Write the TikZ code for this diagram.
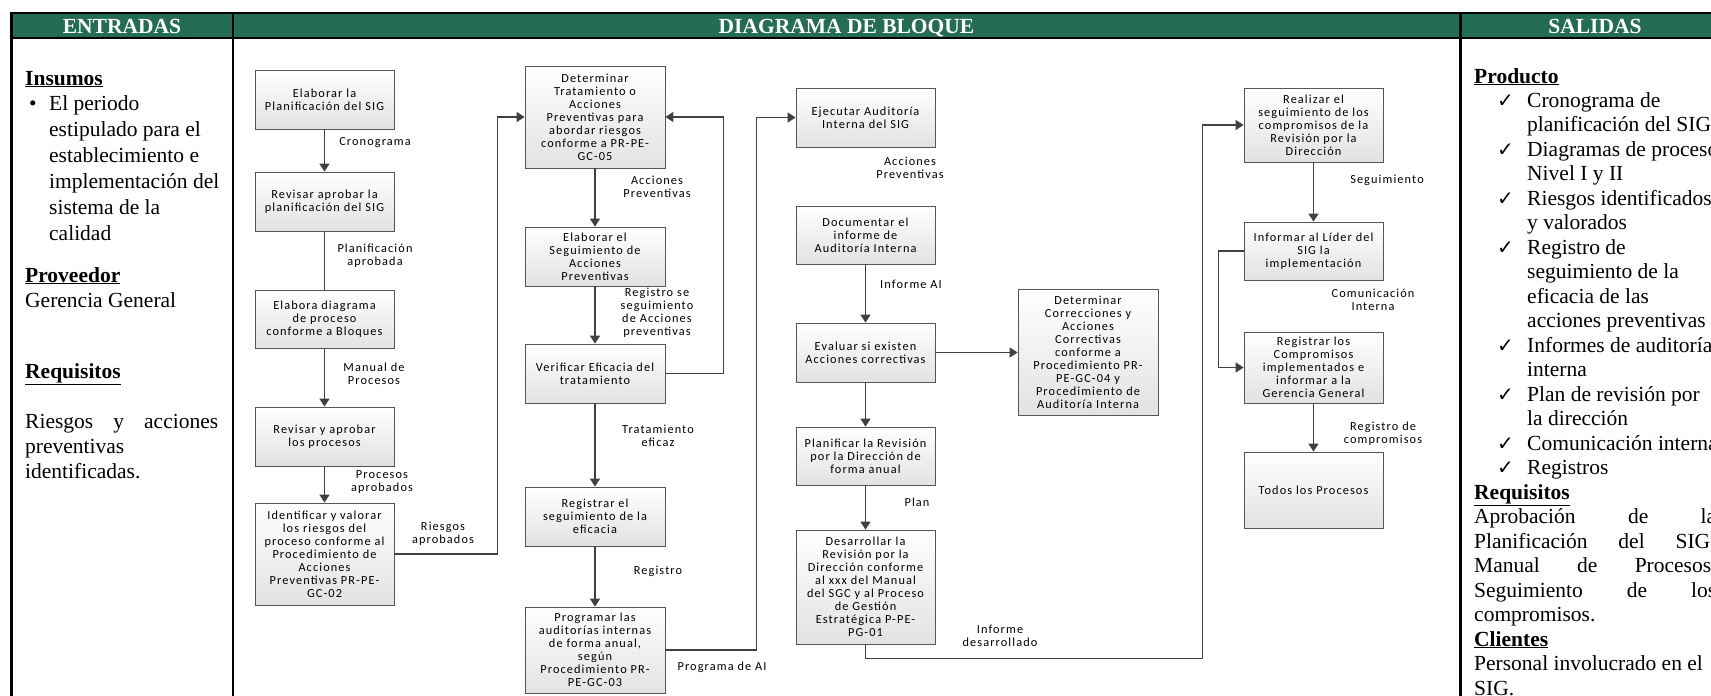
\documentclass[tikz,border=0pt]{standalone}
\usepackage{fontspec}
\setmainfont{Liberation Serif}
\newfontfamily\dgfont{Carlito}[LetterSpace=9]
\newfontfamily\symfont{DejaVu Sans}
\usetikzlibrary{arrows.meta,shadows}

\definecolor{hdrgreen}{RGB}{36,108,82}
\definecolor{linegray}{RGB}{64,64,64}
\definecolor{boxedge}{RGB}{85,85,85}
\definecolor{boxfill}{RGB}{226,226,226}

\newcommand\dgsize{\dgfont\fontsize{12.3}{13}\selectfont}
\newcommand\lsize{\fontsize{21.5}{26}\selectfont}
\newcommand\rsize{\fontsize{21.5}{24.5}\selectfont}

\tikzset{
  tableline/.style={line width=2.4pt, black},
  hdr/.style={anchor=base, text=white, font=\lsize\bfseries, inner sep=0},
  body/.style={anchor=base west, inner sep=0, font=\lsize},
  rbody/.style={anchor=base west, inner sep=0, font=\rsize},
  head/.style={anchor=base west, inner sep=0, font=\lsize\bfseries},
  chk/.style={anchor=base west, inner sep=0, font=\symfont\fontsize{20}{22}\selectfont},
  box/.style={draw=boxedge, line width=0.8pt, top color=white, bottom color=boxfill,
    align=center, inner sep=1pt, font=\dgsize,
    drop shadow={shadow xshift=1.3pt, shadow yshift=-1.3pt, opacity=0.3}},
  sz/.style 2 args={minimum width=#1pt, minimum height=#2pt},
  lbl/.style={font=\dgsize, align=center, inner sep=0},
  conn/.style={draw=linegray, line width=1.5pt},
  arr/.style={conn, -{Triangle[length=8pt,width=10pt]}},
}

\begin{document}
\begin{tikzpicture}[x=1pt,y=-1pt]
\useasboundingbox (0,0) rectangle (1711,696);
\clip (0,0) rectangle (1711,696);

% table frame and header row
\fill[hdrgreen] (11.5,13) rectangle (1740,38);
\draw[tableline] (11.5,720) -- (11.5,13) -- (1740,13);
\draw[tableline] (11.5,38) -- (1740,38);
\draw[tableline] (233,13) -- (233,720);
\draw[tableline] (1460.5,13) -- (1460.5,720);

\node[hdr] (hin)  at (122,33.5)   {ENTRADAS};
\node[hdr] (hmid) at (846.5,33.5) {DIAGRAMA DE BLOQUE};
\node[hdr] (hout) at (1595,33.5)  {SALIDAS};

% inputs column
\node[head] (ins) at (25,85) {\underline{Insumos}};
\node[body] (insb) at (29,110) {\textbullet};
\node[body] (inst) at (49,110) {\parbox[t]{180pt}{\raggedright El periodo\\estipulado para el\\establecimiento e\\implementación del\\sistema de la\\calidad}};
\node[head] (prov) at (25,282) {\underline{Proveedor}};
\node[body] (provt) at (25,307) {Gerencia General};
\node[head] (req) at (25,378) {\underline{Requisitos}};
\node[body] (reqa) at (25,428) {\hbox to 193pt{Riesgos\hfill y\hfill acciones}};
\node[body] (reqb) at (25,453) {preventivas};
\node[body] (reqc) at (25,478) {identificadas.};

% outputs column
\node[head] (prod) at (1474,83) {\underline{Producto}};
\node[chk] (k1) at (1497,107) {✓};
\node[rbody] (p1) at (1527,107) {\parbox[t]{200pt}{\raggedright Cronograma de\\planificación del SIG}};
\node[chk] (k2) at (1497,156) {✓};
\node[rbody] (p2) at (1527,156) {\parbox[t]{200pt}{\raggedright Diagramas de proceso\\Nivel I y II}};
\node[chk] (k3) at (1497,205) {✓};
\node[rbody] (p3) at (1527,205) {\parbox[t]{200pt}{\raggedright Riesgos identificados\\y valorados}};
\node[chk] (k4) at (1497,254) {✓};
\node[rbody] (p4) at (1527,254) {\parbox[t]{200pt}{\raggedright Registro de\\seguimiento de la\\eficacia de las\\acciones preventivas}};
\node[chk] (k5) at (1497,352) {✓};
\node[rbody] (p5) at (1527,352) {\parbox[t]{200pt}{\raggedright Informes de auditoría\\interna}};
\node[chk] (k6) at (1497,401) {✓};
\node[rbody] (p6) at (1527,401) {\parbox[t]{200pt}{\raggedright Plan de revisión por\\la dirección}};
\node[chk] (k7) at (1497,450) {✓};
\node[rbody] (p7) at (1527,450) {Comunicación interna};
\node[chk] (k8) at (1497,474.5) {✓};
\node[rbody] (p8) at (1527,474.5) {Registros};
\node[head] (oreq) at (1474,499) {\underline{Requisitos}};
\node[rbody] (ra) at (1474,523.5) {\hbox to 242pt{Aprobación\hfill de\hfill la}};
\node[rbody] (rb) at (1474,548) {\hbox to 236pt{Planificación\hfill del\hfill SIG}};
\node[rbody] (rc) at (1474,572.5) {\hbox to 237pt{Manual\hfill de\hfill Procesos}};
\node[rbody] (rd) at (1474,597) {\hbox to 242pt{Seguimiento\hfill de\hfill los}};
\node[rbody] (re) at (1474,621.5) {compromisos.};
\node[head] (cli) at (1474,646) {\underline{Clientes}};
\node[rbody] (cla) at (1474,670.5) {Personal involucrado en el};
\node[rbody] (clb) at (1474,695) {SIG.};

% block diagram: first column
\node[box, sz={139}{59}]  (b1) at (324.5,99.5) {Elaborar la\\Planificación del SIG};
\node[box, sz={139}{59}]  (b2) at (324.5,201.5) {Revisar aprobar la\\planificación del SIG};
\node[box, sz={139}{58}]  (b3) at (324.5,319) {Elabora diagrama\\de proceso\\conforme a Bloques};
\node[box, sz={139}{59}]  (b4) at (324.5,436.5) {Revisar y aprobar\\los procesos};
\node[box, sz={139}{102}] (b5) at (324.5,554) {Identificar y valorar\\los riesgos del\\proceso conforme al\\Procedimiento de\\Acciones\\Preventivas PR-PE-\\GC-02};

% second column
\node[box, sz={140}{102}] (b6) at (595,117) {Determinar\\Tratamiento o\\Acciones\\Preventivas para\\abordar riesgos\\conforme a PR-PE-\\GC-05};
\node[box, sz={140}{59}]  (b7) at (595,256.5) {Elaborar el\\Seguimiento de\\Acciones\\Preventivas};
\node[box, sz={140}{59}]  (b8) at (595,373.5) {Verificar Eficacia del\\tratamiento};
\node[box, sz={140}{59}]  (b9) at (595,516.5) {Registrar el\\seguimiento de la\\eficacia};
\node[box, sz={140}{86}]  (b10) at (595,650) {Programar las\\auditorías internas\\de forma anual,\\según\\Procedimiento PR-\\PE-GC-03};

% third column
\node[box, sz={139}{59}]  (b11) at (865.5,117.5) {Ejecutar Auditoría\\Interna del SIG};
\node[box, sz={139}{58}]  (b12) at (865.5,235) {Documentar el\\informe de\\Auditoría Interna};
\node[box, sz={139}{59}]  (b13) at (865.5,352.5) {Evaluar si existen\\Acciones correctivas};
\node[box, sz={140}{126}] (b14) at (1088,352) {Determinar\\Correcciones y\\Acciones\\Correctivas\\conforme a\\Procedimiento PR-\\PE-GC-04 y\\Procedimiento de\\Auditoría Interna};
\node[box, sz={139}{58}]  (b15) at (865.5,456) {Planificar la Revisión\\por la Dirección de\\forma anual};
\node[box, sz={139}{114}] (b16) at (865.5,587) {Desarrollar la\\Revisión por la\\Dirección conforme\\al xxx del Manual\\del SGC y al Proceso\\de Gestión\\Estratégica P-PE-\\PG-01};

% fourth column
\node[box, sz={139}{74}]  (b17) at (1313.5,125) {Realizar el\\seguimiento de los\\compromisos de la\\Revisión por la\\Dirección};
\node[box, sz={139}{58}]  (b18) at (1313.5,251) {Informar al Líder del\\SIG la\\implementación};
\node[box, sz={139}{71}]  (b19) at (1313.5,367.5) {Registrar los\\Compromisos\\implementados e\\informar a la\\Gerencia General};
\node[box, sz={139}{76}]  (b20) at (1313.5,490) {Todos los Procesos};

% connectors
\draw[arr]  (b1) -- (b2);
\draw[conn] (b2) -- (b3);
\draw[arr]  (b3) -- (b4);
\draw[arr]  (b4) -- (b5);
\draw[arr]  (b5.east) -- ++(103,0) |- (b6.west);
\draw[arr]  (b6) -- (b7);
\draw[arr]  (b7) -- (b8);
\draw[arr]  (b8) -- (b9);
\draw[arr]  (b9) -- (b10);
\draw[arr]  (b8.east) -- ++(58,0) |- (b6.east);
\draw[arr]  (b10.east) -- ++(91,0) |- (b11.west);
\draw[arr]  (b12) -- (b13);
\draw[arr]  (b13.east) -- (b13.east -| b14.west);
\draw[arr]  (b13) -- (b15);
\draw[arr]  (b15) -- (b16);
\draw[arr]  (b16.south) -- ++(0,14) -| ([xshift=-41pt]b17.west) -- (b17.west);
\draw[arr]  (b17) -- (b18);
\draw[arr]  (b18.west) -- ++(-25,0) |- (b19.west);
\draw[arr]  (b19) -- (b20);

% connector labels
\node[lbl] (l1)  at (375,143)    {Cronograma};
\node[lbl] (l2)  at (375,255.5)  {Planificación\\aprobada};
\node[lbl] (l3)  at (374,373.5)  {Manual de\\Procesos};
\node[lbl] (l4)  at (382,482)    {Procesos\\aprobados};
\node[lbl] (l5)  at (443,534)    {Riesgos\\aprobados};
\node[lbl] (l6)  at (657,187)    {Acciones\\Preventivas};
\node[lbl] (l7)  at (657,313)    {Registro se\\seguimiento\\de Acciones\\preventivas};
\node[lbl] (l8)  at (658,436)    {Tratamiento\\eficaz};
\node[lbl] (l9)  at (658,571)    {Registro};
\node[lbl] (l10) at (722,667)    {Programa de AI};
\node[lbl] (l11) at (910,167.5)  {Acciones\\Preventivas};
\node[lbl] (l12) at (911,284)    {Informe AI};
\node[lbl] (l13) at (917,502)    {Plan};
\node[lbl] (l14) at (1000,635.5) {Informe\\desarrollado};
\node[lbl] (l15) at (1387,180)   {Seguimiento};
\node[lbl] (l16) at (1373,300)   {Comunicación\\Interna};
\node[lbl] (l17) at (1383,433.5) {Registro de\\compromisos};
\end{tikzpicture}
\end{document}
